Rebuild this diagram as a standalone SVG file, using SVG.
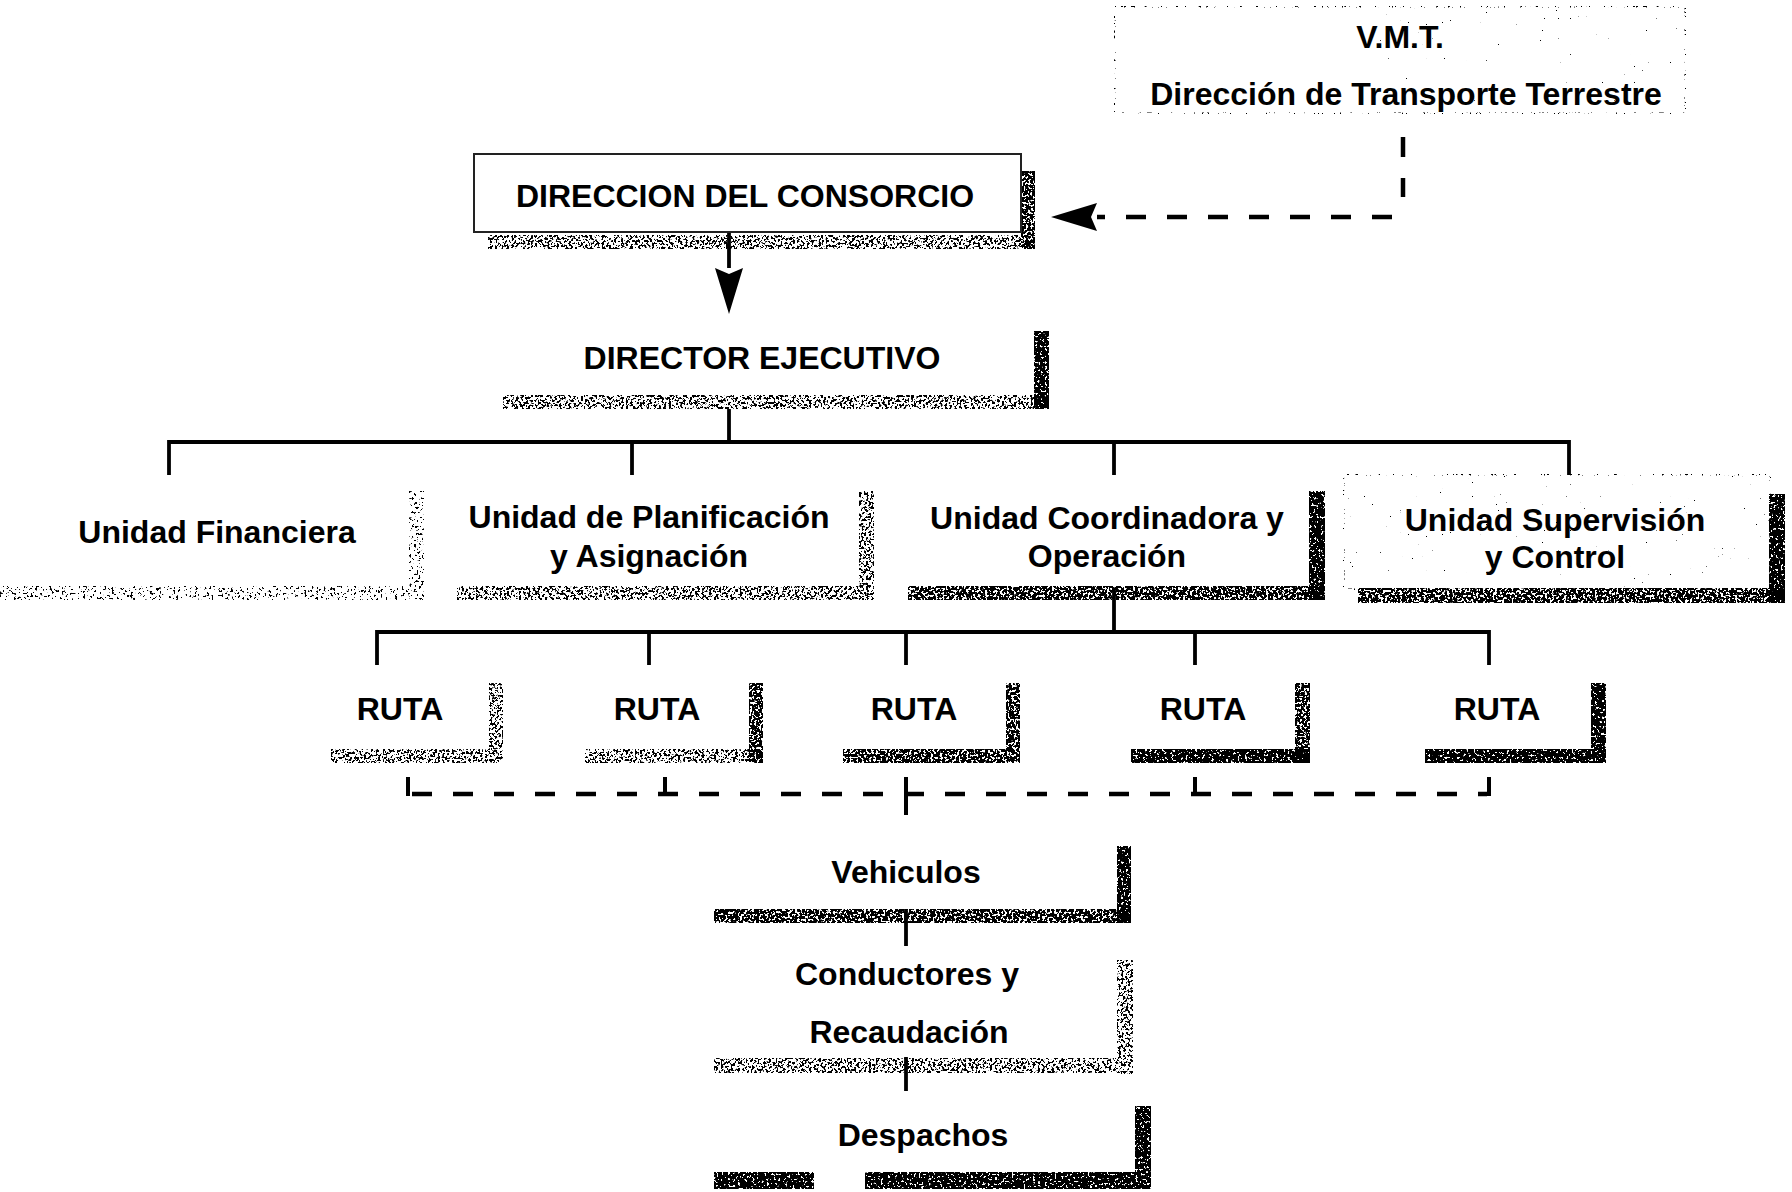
<svg xmlns="http://www.w3.org/2000/svg" width="1792" height="1192" viewBox="0 0 1792 1192">
  <defs>
    <style>
      .lbl { font-family: "Liberation Sans", Arial, Helvetica, sans-serif; font-weight: bold; font-size: 32px; fill: #000; text-anchor: middle; }
      .wire { stroke: #000; stroke-width: 3.8; fill: none; stroke-linecap: butt; }
      .dash { stroke: #000; stroke-width: 4.5; fill: none; stroke-dasharray: 20 21; }
      .tick { stroke: #000; stroke-width: 4; fill: none; }
      .box { fill: #fff; stroke: #222; stroke-width: 2; }
      .sh { fill: #000; }
    </style>
    <!-- speckled shadow textures: thresholded noise clipped to the shape -->
    <filter id="gLight" x="0" y="0" width="1" height="1">
      <feTurbulence type="fractalNoise" baseFrequency="0.42" numOctaves="2" seed="4" result="n"/>
      <feColorMatrix in="n" type="matrix" values="0 0 0 0 0  0 0 0 0 0  0 0 0 0 0  28 0 0 0 -17.2" result="m"/>
      <feComposite in="m" in2="SourceAlpha" operator="in"/>
    </filter>
    <filter id="gMid" x="0" y="0" width="1" height="1">
      <feTurbulence type="fractalNoise" baseFrequency="0.42" numOctaves="2" seed="9" result="n"/>
      <feColorMatrix in="n" type="matrix" values="0 0 0 0 0  0 0 0 0 0  0 0 0 0 0  28 0 0 0 -14.6" result="m"/>
      <feComposite in="m" in2="SourceAlpha" operator="in"/>
    </filter>
    <filter id="gDark" x="0" y="0" width="1" height="1">
      <feTurbulence type="fractalNoise" baseFrequency="0.42" numOctaves="2" seed="17" result="n"/>
      <feColorMatrix in="n" type="matrix" values="0 0 0 0 0  0 0 0 0 0  0 0 0 0 0  28 0 0 0 -11.8" result="m"/>
      <feComposite in="m" in2="SourceAlpha" operator="in"/>
    </filter>
    <filter id="gHeavy" x="0" y="0" width="1" height="1">
      <feTurbulence type="fractalNoise" baseFrequency="0.42" numOctaves="2" seed="23" result="n"/>
      <feColorMatrix in="n" type="matrix" values="0 0 0 0 0  0 0 0 0 0  0 0 0 0 0  28 0 0 0 -9.6" result="m"/>
      <feComposite in="m" in2="SourceAlpha" operator="in"/>
    </filter>
    <filter id="gSparse" x="0" y="0" width="1" height="1">
      <feTurbulence type="fractalNoise" baseFrequency="0.5" numOctaves="2" seed="31" result="n"/>
      <feColorMatrix in="n" type="matrix" values="0 0 0 0 0  0 0 0 0 0  0 0 0 0 0  30 0 0 0 -23.4" result="m"/>
      <feComposite in="m" in2="SourceAlpha" operator="in"/>
    </filter>
    <filter id="gEdge" x="0" y="0" width="1" height="1">
      <feTurbulence type="fractalNoise" baseFrequency="0.5" numOctaves="2" seed="37" result="n"/>
      <feColorMatrix in="n" type="matrix" values="0 0 0 0 0  0 0 0 0 0  0 0 0 0 0  30 0 0 0 -19.5" result="m"/>
      <feComposite in="m" in2="SourceAlpha" operator="in"/>
    </filter>
    <marker id="head" markerUnits="userSpaceOnUse" viewBox="0 0 46 28" markerWidth="46" markerHeight="28" refX="0" refY="14" orient="auto">
      <path d="M0,0 L6,14 L0,28 L46,14 Z" fill="#000"/>
    </marker>
  </defs>

  <rect width="1792" height="1192" fill="#fff"/>

  <!-- connectors -->
  <g id="connectors">
    <!-- consortium board to executive director -->
    <line class="wire" x1="729" y1="232" x2="729" y2="268" marker-end="url(#head)"/>
    <!-- V.M.T. oversight, dashed, arrow into the board -->
    <path class="dash" d="M1403,137 V197"/>
    <path class="dash" d="M1392,217 H1097" marker-end="url(#head)"/>
    <!-- executive director to the four units -->
    <line class="wire" x1="729" y1="409" x2="729" y2="442"/>
    <line class="wire" x1="169" y1="442" x2="1569" y2="442"/>
    <line class="wire" x1="169" y1="440" x2="169" y2="475"/>
    <line class="wire" x1="632" y1="440" x2="632" y2="475"/>
    <line class="wire" x1="1114" y1="440" x2="1114" y2="475"/>
    <line class="wire" x1="1569" y1="440" x2="1569" y2="475"/>
    <!-- coordination unit to the routes -->
    <line class="wire" x1="1114" y1="588" x2="1114" y2="632"/>
    <line class="wire" x1="377" y1="632" x2="1489" y2="632"/>
    <line class="wire" x1="377" y1="630" x2="377" y2="665"/>
    <line class="wire" x1="649" y1="630" x2="649" y2="665"/>
    <line class="wire" x1="906" y1="630" x2="906" y2="665"/>
    <line class="wire" x1="1195" y1="630" x2="1195" y2="665"/>
    <line class="wire" x1="1489" y1="630" x2="1489" y2="665"/>
    <!-- dashed link between the routes -->
    <path class="dash" d="M412,794 H1487" stroke-dasharray="18 18"/>
    <line class="tick" x1="408" y1="777" x2="408" y2="796"/>
    <line class="tick" x1="665" y1="777" x2="665" y2="796"/>
    <line class="tick" x1="906" y1="777" x2="906" y2="815"/>
    <line class="tick" x1="1195" y1="777" x2="1195" y2="796"/>
    <line class="tick" x1="1489" y1="777" x2="1489" y2="796"/>
    <!-- route services chain -->
    <line class="wire" x1="906" y1="909" x2="906" y2="946"/>
    <line class="wire" x1="906" y1="1057" x2="906" y2="1091"/>
  </g>

  <!-- V.M.T. -->
  <g id="vmt">
    <rect x="1114" y="6" width="572" height="108" fill="none" stroke="#000" stroke-width="3" filter="url(#gEdge)"/>
    <rect x="1380" y="8" width="300" height="96" class="sh" filter="url(#gSparse)"/>
    <text class="lbl" x="1400" y="48">V.M.T.</text>
    <text class="lbl" x="1406" y="105">Dirección de Transporte Terrestre</text>
  </g>

  <!-- Dirección del Consorcio -->
  <g id="direccion-consorcio">
    <rect class="sh" x="1021" y="171" width="14" height="78" filter="url(#gDark)"/>
    <rect class="sh" x="488" y="235" width="547" height="14" filter="url(#gMid)"/>
    <rect class="box" x="474" y="154" width="547" height="78"/>
    <text class="lbl" x="745" y="207">DIRECCION DEL CONSORCIO</text>
  </g>

  <!-- Director Ejecutivo -->
  <g id="director-ejecutivo">
    <rect class="sh" x="1034" y="331" width="15" height="78" filter="url(#gHeavy)"/>
    <rect class="sh" x="503" y="395" width="546" height="14" filter="url(#gMid)"/>
    <text class="lbl" x="762" y="369">DIRECTOR EJECUTIVO</text>
  </g>

  <!-- Unidad Financiera -->
  <g id="unidad-financiera">
    <rect class="sh" x="409" y="491" width="15" height="109" filter="url(#gLight)"/>
    <rect class="sh" x="0" y="586" width="424" height="14" filter="url(#gLight)"/>
    <text class="lbl" x="217" y="543">Unidad Financiera</text>
  </g>

  <!-- Unidad de Planificación y Asignación -->
  <g id="unidad-planificacion">
    <rect class="sh" x="859" y="491" width="15" height="109" filter="url(#gMid)"/>
    <rect class="sh" x="457" y="586" width="417" height="14" filter="url(#gMid)"/>
    <text class="lbl" x="649" y="528">Unidad de Planificación</text>
    <text class="lbl" x="649" y="567">y Asignación</text>
  </g>

  <!-- Unidad Coordinadora y Operación -->
  <g id="unidad-coordinadora">
    <rect class="sh" x="1309" y="491" width="16" height="109" filter="url(#gHeavy)"/>
    <rect class="sh" x="908" y="586" width="417" height="14" filter="url(#gDark)"/>
    <text class="lbl" x="1107" y="529">Unidad Coordinadora y</text>
    <text class="lbl" x="1107" y="567">Operación</text>
  </g>

  <!-- Unidad Supervisión y Control -->
  <g id="unidad-supervision">
    <rect x="1343" y="474" width="428" height="116" fill="none" stroke="#000" stroke-width="3" filter="url(#gEdge)"/>
    <rect class="sh" x="1345" y="476" width="424" height="112" filter="url(#gSparse)"/>
    <rect class="sh" x="1769" y="494" width="16" height="109" filter="url(#gHeavy)"/>
    <rect class="sh" x="1358" y="588" width="427" height="15" filter="url(#gDark)"/>
    <text class="lbl" x="1555" y="531">Unidad Supervisión</text>
    <text class="lbl" x="1555" y="568">y Control</text>
  </g>

  <!-- Rutas -->
  <g id="ruta-1">
    <rect class="sh" x="489" y="683" width="14" height="80" filter="url(#gMid)"/>
    <rect class="sh" x="331" y="749" width="172" height="14" filter="url(#gMid)"/>
    <text class="lbl" x="400" y="720">RUTA</text>
  </g>
  <g id="ruta-2">
    <rect class="sh" x="749" y="683" width="14" height="80" filter="url(#gDark)"/>
    <rect class="sh" x="585" y="749" width="178" height="14" filter="url(#gMid)"/>
    <text class="lbl" x="657" y="720">RUTA</text>
  </g>
  <g id="ruta-3">
    <rect class="sh" x="1006" y="683" width="14" height="80" filter="url(#gDark)"/>
    <rect class="sh" x="843" y="749" width="177" height="14" filter="url(#gDark)"/>
    <text class="lbl" x="914" y="720">RUTA</text>
  </g>
  <g id="ruta-4">
    <rect class="sh" x="1295" y="683" width="15" height="80" filter="url(#gDark)"/>
    <rect class="sh" x="1131" y="749" width="179" height="14" filter="url(#gHeavy)"/>
    <text class="lbl" x="1203" y="720">RUTA</text>
  </g>
  <g id="ruta-5">
    <rect class="sh" x="1591" y="683" width="15" height="80" filter="url(#gHeavy)"/>
    <rect class="sh" x="1425" y="749" width="181" height="14" filter="url(#gHeavy)"/>
    <text class="lbl" x="1497" y="720">RUTA</text>
  </g>

  <!-- Vehiculos -->
  <g id="vehiculos">
    <rect class="sh" x="1117" y="846" width="14" height="77" filter="url(#gHeavy)"/>
    <rect class="sh" x="714" y="909" width="417" height="14" filter="url(#gDark)"/>
    <text class="lbl" x="906" y="883">Vehiculos</text>
  </g>

  <!-- Conductores y Recaudación -->
  <g id="conductores">
    <rect class="sh" x="1117" y="960" width="16" height="114" filter="url(#gMid)"/>
    <rect class="sh" x="714" y="1058" width="419" height="15" filter="url(#gMid)"/>
    <text class="lbl" x="907" y="985">Conductores y</text>
    <text class="lbl" x="909" y="1043">Recaudación</text>
  </g>

  <!-- Despachos -->
  <g id="despachos">
    <rect class="sh" x="1135" y="1106" width="16" height="83" filter="url(#gHeavy)"/>
    <rect class="sh" x="714" y="1172" width="100" height="17" filter="url(#gHeavy)"/>
    <rect class="sh" x="865" y="1172" width="286" height="17" filter="url(#gHeavy)"/>
    <text class="lbl" x="923" y="1146">Despachos</text>
  </g>
</svg>
